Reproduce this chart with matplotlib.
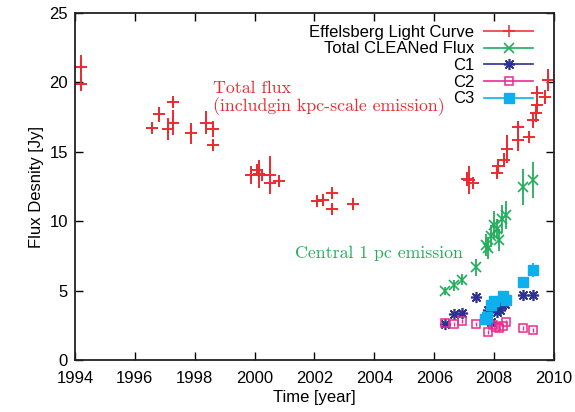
import numpy as np
import matplotlib
matplotlib.use("Agg")
import matplotlib.pyplot as plt
from matplotlib.lines import Line2D

# Effelsberg single-dish light curve
eff_t = [1994.2, 1994.2, 1996.58, 1996.8, 1997.1, 1997.28, 1997.28, 1997.87,
         1998.38, 1998.62, 1998.62,
         1999.87, 2000.07, 2000.15, 2000.23, 2000.5, 2000.5, 2000.8,
         2002.09, 2002.27, 2002.6, 2002.6, 2003.3,
         2007.08, 2007.16, 2007.3, 2008.08, 2008.14, 2008.34, 2008.42,
         2008.79, 2008.81, 2009.16, 2009.31, 2009.39, 2009.42, 2009.44,
         2009.71, 2009.79]
eff_f = [21.1, 19.9, 16.74, 17.7, 16.64, 17.1, 18.56, 16.33,
         17.1, 16.64, 15.49,
         13.3, 13.69, 13.38, 13.33, 13.33, 12.77, 12.92,
         11.48, 11.53, 12.0, 10.85, 11.24,
         13.02, 12.97, 12.73, 13.45, 13.98, 14.41, 15.2,
         15.85, 16.81, 16.04, 17.29, 17.77, 18.37, 19.21,
         18.97, 20.17]
eff_e = [0.9, 0.5, 0.25, 0.55, 0.8, 0.9, 0.3, 0.75,
         0.85, 0.6, 0.35,
         0.65, 0.3, 1.0, 0.3, 1.4, 0.4, 0.4,
         0.3, 0.4, 0.3, 0.3, 0.3,
         0.5, 1.0, 0.3, 0.3, 0.5, 0.5, 1.0,
         0.8, 0.4, 0.2, 0.6, 0.6, 0.6, 0.5,
         0.5, 0.8]

# total CLEANed flux of VLBI maps
tot_t = [2006.36, 2006.66, 2006.93, 2007.38, 2007.72, 2007.8, 2007.88, 2007.98,
         2008.08, 2008.16, 2008.26, 2008.38, 2008.96, 2009.31]
tot_f = [4.99, 5.40, 5.80, 6.67, 8.29, 8.05, 8.95, 9.7,
         9.46, 8.62, 10.17, 10.45, 12.49, 12.97]
tot_e = [0.3, 0.4, 0.4, 0.6, 0.8, 0.8, 0.8, 1.0,
         0.7, 0.8, 1.0, 1.0, 1.3, 1.3]

# components
c1_t = [2006.36, 2006.66, 2006.94, 2007.38, 2007.69, 2007.8, 2007.88, 2008.03,
        2008.1, 2008.2, 2008.25, 2008.36, 2008.97, 2009.31]
c1_f = [2.59, 3.34, 3.42, 4.54, 3.0, 3.6, 2.73, 3.8,
        3.48, 3.6, 3.96, 4.0, 4.65, 4.65]
c1_e = [0.15, 0.2, 0.2, 0.25, 0.2, 0.2, 0.2, 0.2,
        0.2, 0.2, 0.2, 0.2, 0.25, 0.25]

c2_t = [2006.36, 2006.66, 2006.94, 2007.38, 2007.8, 2007.97, 2008.06, 2008.17,
        2008.28, 2008.38, 2008.97, 2009.31]
c2_f = [2.64, 2.59, 2.83, 2.59, 1.99, 2.52, 2.35, 2.28,
        2.45, 2.76, 2.28, 2.16]
c2_e = [0.15, 0.15, 0.15, 0.15, 0.15, 0.15, 0.15, 0.15,
        0.15, 0.15, 0.15, 0.15]

c3_t = [2007.69, 2007.75, 2007.88, 2007.98, 2008.3, 2008.38, 2008.97, 2009.31]
c3_f = [2.95, 3.12, 3.94, 4.22, 4.61, 4.35, 5.64, 6.5]
c3_e = [0.2, 0.2, 0.2, 0.2, 0.2, 0.2, 0.3, 0.5]

RED = '#ee2a30'
GREEN = '#1fae5a'
NAVY = '#2e3192'
MAGENTA = '#ec2a8c'
CYAN = '#0cb0ec'

plt.rcParams['font.family'] = ['Liberation Sans', 'DejaVu Sans']

fig = plt.figure(figsize=(5.75, 4.12), dpi=100)
ax = fig.add_axes([0.1304, 0.1262, 0.8331, 0.8422])

ax.errorbar(eff_t, eff_f, yerr=eff_e, fmt='+', color=RED, ms=8, mew=1.4,
            elinewidth=1.4, capsize=0)
ax.errorbar(tot_t, tot_f, yerr=tot_e, fmt='x', color=GREEN, ms=7, mew=1.2,
            elinewidth=1.3, capsize=0)
ax.errorbar(c2_t, c2_f, yerr=c2_e, fmt='s', color=MAGENTA, mfc='none', ms=6,
            mew=1.1, elinewidth=1.0, capsize=0)
ax.errorbar(c3_t, c3_f, yerr=c3_e, fmt='s', color=CYAN, ms=6.5,
            elinewidth=1.3, capsize=0)
ax.errorbar(c1_t, c1_f, yerr=c1_e, fmt='none', color=NAVY,
            elinewidth=1.0, capsize=0)
ax.plot(c1_t, c1_f, ls='none', marker=(8, 2, 0), color=NAVY, ms=8, mew=1.2)

ax.text(1998.62, 20.15, "Total flux\n(includgin kpc-scale emission)",
        color=RED, family='cmr10', fontsize=12.8, va='top', ha='left',
        linespacing=1.1)
ax.text(2001.35, 7.7, "Central 1 pc emission", color=GREEN, family='cmr10',
        fontsize=12.8, va='center', ha='left')

ax.set_xlim(1994, 2010)
ax.set_ylim(0, 25)
ax.set_xticks(np.arange(1994, 2011, 2))
ax.set_yticks(np.arange(0, 26, 5))
ax.tick_params(direction='in', top=True, right=True, length=6, width=1.0,
               labelsize=12, pad=5)
ax.tick_params(axis='x', pad=8)
for s in ax.spines.values():
    s.set_linewidth(1.3)
    s.set_color('#222222')
ax.set_xlabel("Time [year]", fontsize=12, labelpad=3)
ax.set_ylabel("Flux Desnity [Jy]", fontsize=12)

handles = [
    Line2D([], [], color=RED, marker='+', ms=8, mew=1.4, lw=1.4, alpha=0.8),
    Line2D([], [], color=GREEN, marker='x', ms=7, mew=1.2, lw=1.2),
    Line2D([], [], color=NAVY, marker=(8, 2, 0), ms=8, mew=1.2, lw=1.2),
    Line2D([], [], color=MAGENTA, marker='s', mfc='none', ms=6, mew=1.1, lw=1.2),
    Line2D([], [], color=CYAN, marker='s', ms=6.5, lw=1.2),
]
labels = ["Effelsberg Light Curve", "Total CLEANed Flux", "C1", "C2", "C3"]
ax.legend(handles, labels, loc='upper right', frameon=False, markerfirst=False,
          fontsize=12, handlelength=2.9, handletextpad=0.6, labelspacing=0.1,
          borderaxespad=0.3, bbox_to_anchor=(0.98, 1.0))

fig.savefig("out.png", dpi=100)
